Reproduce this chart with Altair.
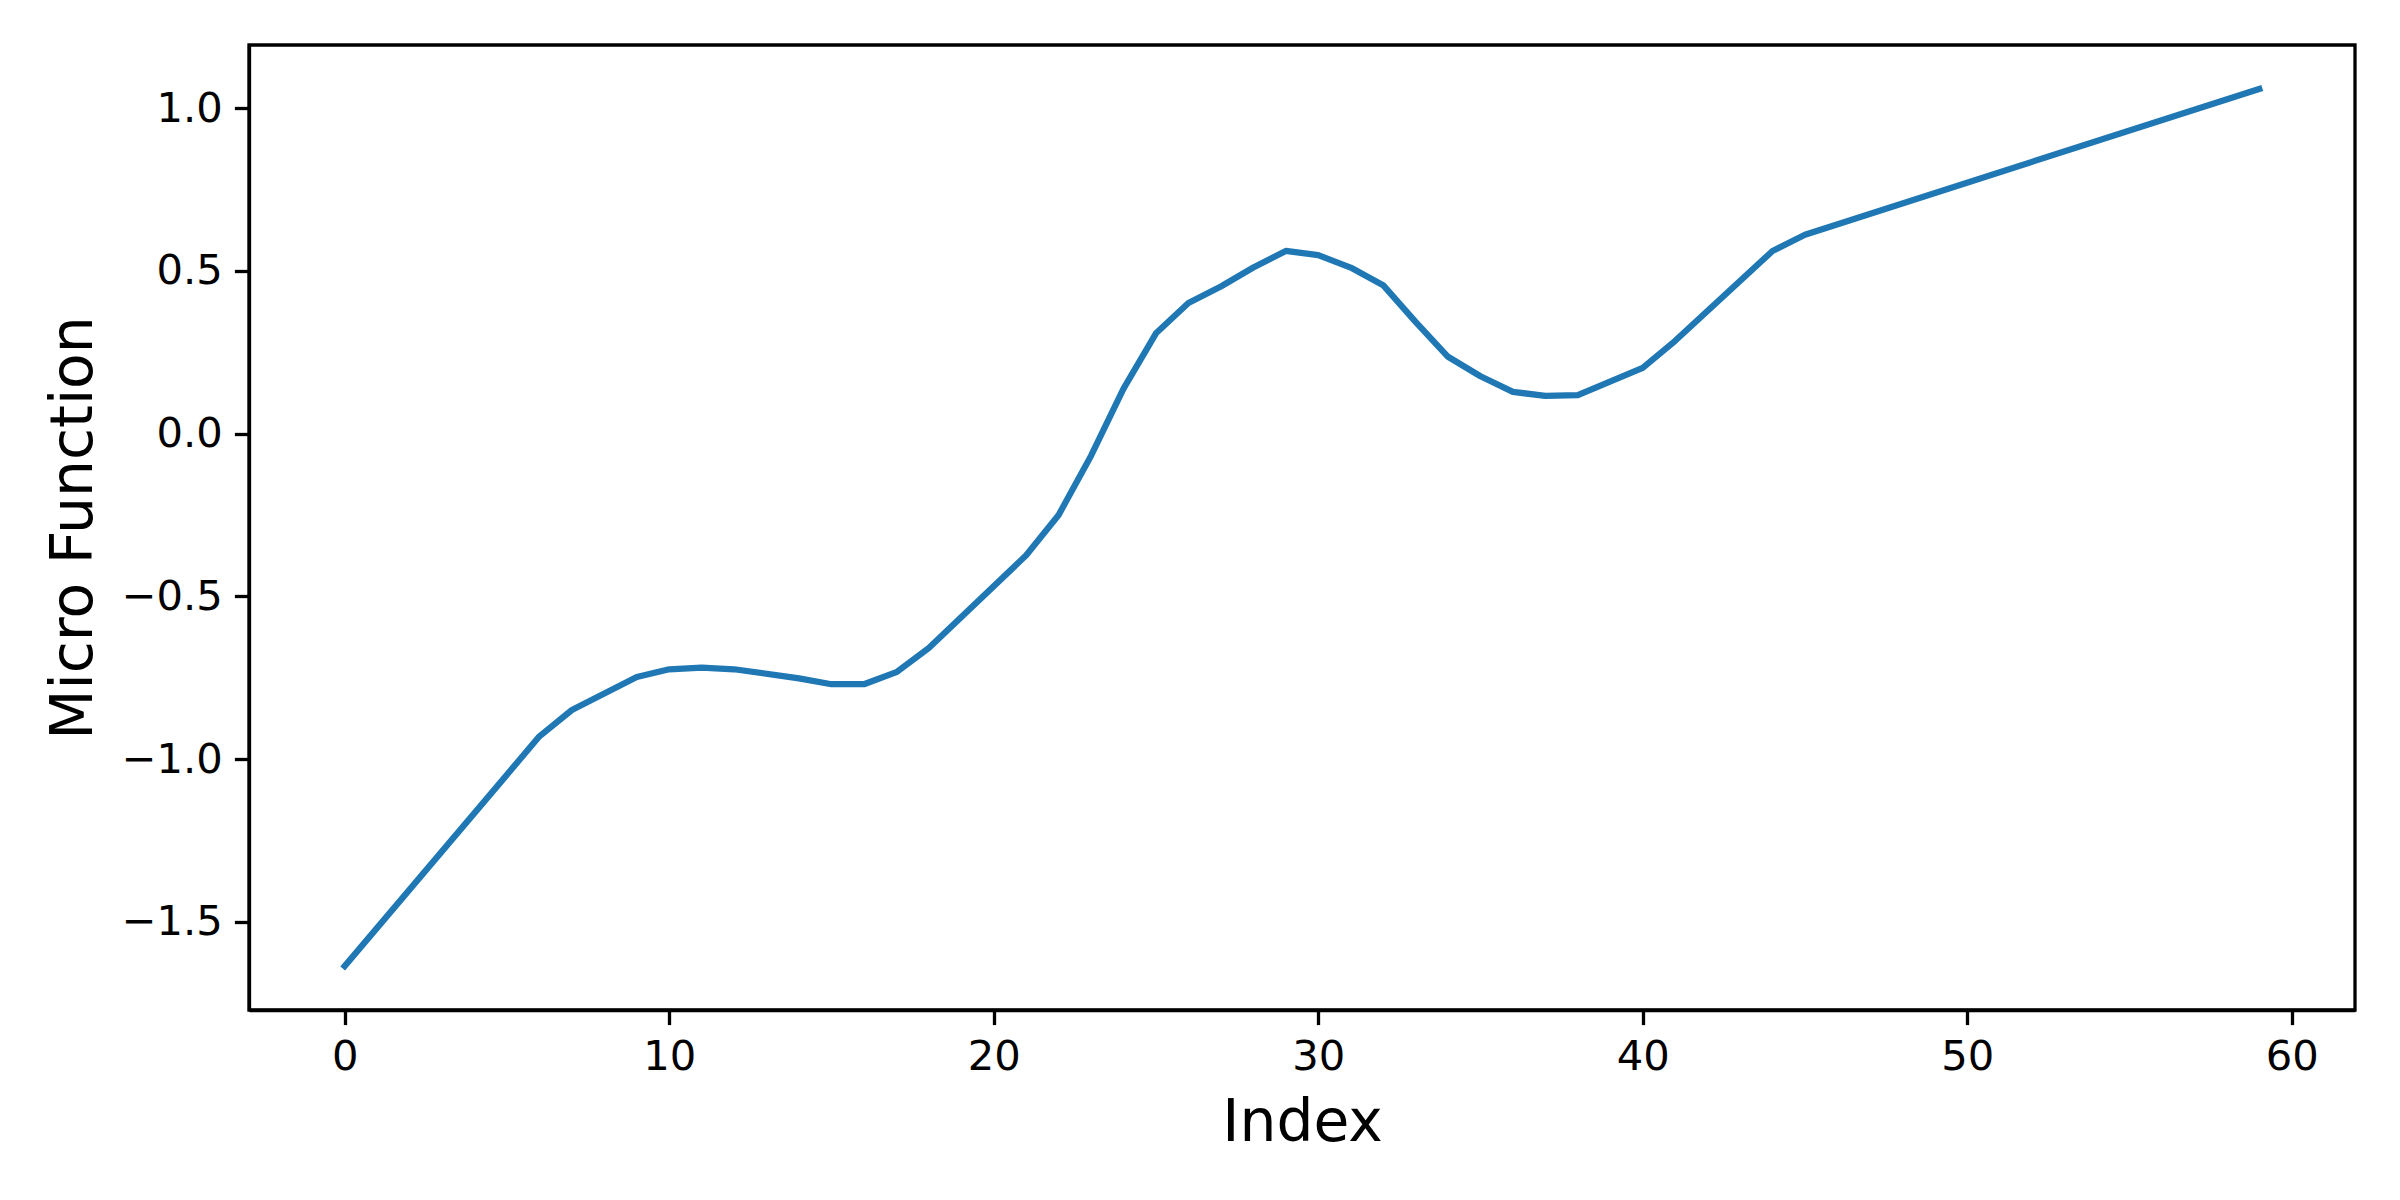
import altair as alt
import pandas as pd

index_values = [0, 6, 7, 9, 10, 11, 12, 14, 15, 16, 17, 18, 21, 22, 23, 24, 25, 26,
                27, 28, 29, 30, 31, 32, 33, 34, 35, 36, 37, 38, 40, 41, 44, 45, 59]
micro_values = [-1.636, -0.930, -0.849, -0.748, -0.724, -0.719, -0.724, -0.752, -0.770,
                -0.770, -0.733, -0.659, -0.374, -0.250, -0.068, 0.138, 0.308, 0.401,
                0.452, 0.510, 0.561, 0.548, 0.510, 0.456, 0.343, 0.236, 0.176, 0.128,
                0.116, 0.118, 0.202, 0.285, 0.561, 0.611, 1.059]
x_ticks = [0, 10, 20, 30, 40, 50, 60]
y_ticks = [-1.5, -1.0, -0.5, 0.0, 0.5, 1.0]

df = pd.DataFrame({"Index": index_values, "Micro": micro_values})

xmin, xmax = min(index_values), max(index_values)
ymin, ymax = min(micro_values), max(micro_values)
xm = (xmax - xmin) * 0.05
ym = (ymax - ymin) * 0.05

FONT = "DejaVu Sans"

chart = alt.Chart(df).mark_line(
    color="#1f77b4", strokeWidth=6.25, strokeCap="square", strokeJoin="round", clip=True
).encode(
    x=alt.X("Index:Q",
            scale=alt.Scale(domain=[xmin - xm, xmax + xm], nice=False, zero=False),
            axis=alt.Axis(values=x_ticks, format="d", title="Index", grid=False,
                          titlePadding=16)),
    y=alt.Y("Micro:Q",
            scale=alt.Scale(domain=[ymin - ym, ymax + ym], nice=False, zero=False),
            axis=alt.Axis(values=y_ticks, format=".1f", title="Micro Function", grid=False,
                          labelExpr="replace(datum.label, '-', '\u2212')",
                          titlePadding=18)),
).properties(
    width=2106, height=965,
    autosize=alt.AutoSizeParams(type="none"),
    padding={"left": 241, "top": 37, "right": 30, "bottom": 150},
).configure_view(
    stroke="black", strokeWidth=3.3
).configure_axis(
    domainColor="black", domainWidth=3.3,
    tickColor="black", tickWidth=3.3, tickSize=14.6,
    labelColor="black", labelFont=FONT, labelFontSize=41.7, labelPadding=12,
    titleColor="black", titleFont=FONT, titleFontSize=58.3, titleFontWeight="normal",
)

chart.save("out.html", embed_options={"renderer": "svg", "actions": False})
